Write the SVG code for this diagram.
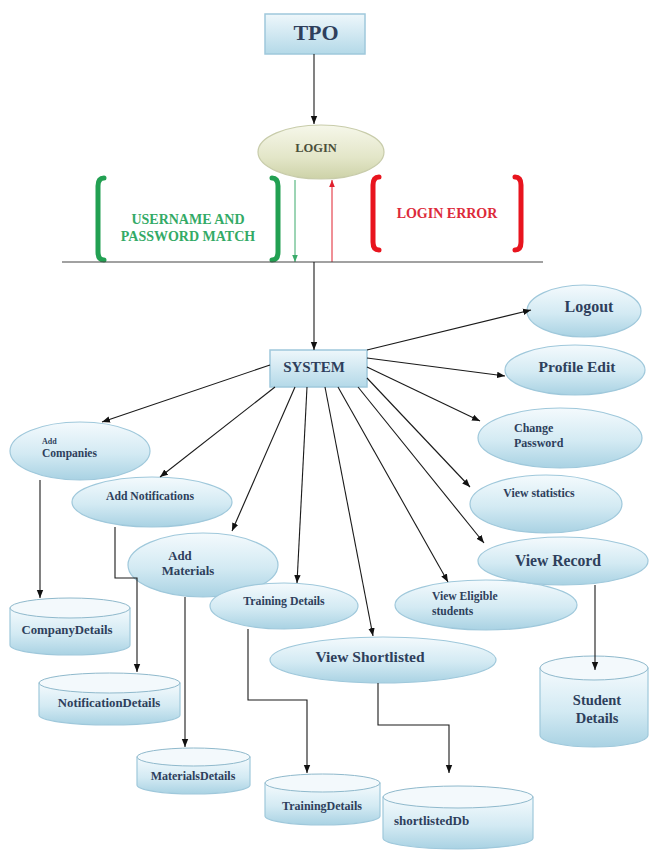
<svg xmlns="http://www.w3.org/2000/svg" width="652" height="852" viewBox="0 0 652 852">
<defs>
<linearGradient id="gb" x1="0" y1="0" x2="0" y2="1">
<stop offset="0" stop-color="#f4fafd"/>
<stop offset="0.55" stop-color="#d3eaf3"/>
<stop offset="1" stop-color="#a9d2e3"/>
</linearGradient>
<linearGradient id="gbox" x1="0" y1="0" x2="0" y2="1">
<stop offset="0" stop-color="#eef7fb"/>
<stop offset="1" stop-color="#b4d9e8"/>
</linearGradient>
<linearGradient id="gl" x1="0" y1="0" x2="0" y2="1">
<stop offset="0" stop-color="#f6f7ea"/>
<stop offset="0.6" stop-color="#e3e6c8"/>
<stop offset="1" stop-color="#cdd2a8"/>
</linearGradient>
<marker id="ah" viewBox="0 0 10 10" refX="10" refY="5" markerWidth="8" markerHeight="8" markerUnits="userSpaceOnUse" orient="auto"><path d="M0,1 L10,5 L0,9 z" fill="#111"/></marker>
<marker id="ahg" viewBox="0 0 10 10" refX="10" refY="5" markerWidth="7" markerHeight="7" markerUnits="userSpaceOnUse" orient="auto"><path d="M0,1 L10,5 L0,9 z" fill="#3aaa6a"/></marker>
<marker id="ahr" viewBox="0 0 10 10" refX="10" refY="5" markerWidth="7" markerHeight="7" markerUnits="userSpaceOnUse" orient="auto"><path d="M0,1 L10,5 L0,9 z" fill="#e0202e"/></marker>
</defs>
<style>
.e{fill:url(#gb);stroke:#9fc8db;stroke-width:1.2}
.bx{fill:url(#gbox);stroke:#9fc8db;stroke-width:1.5}
.cb{fill:url(#gb);stroke:#9fc8db;stroke-width:1.2}
.ct{fill:#f3f9fc;stroke:#8fb9cc;stroke-width:1}
.t{font-family:"Liberation Serif","Times New Roman",serif;font-weight:bold;fill:#2e3f5c}
.c{stroke:#1a1a1a;stroke-width:1.1;fill:none}
.ca{stroke:#1a1a1a;stroke-width:1.1;fill:none;marker-end:url(#ah)}
.gbr{stroke:#22a052;stroke-width:5;fill:none;stroke-linecap:round}
.rbr{stroke:#e8141e;stroke-width:5;fill:none;stroke-linecap:round}
</style>
<rect width="652" height="852" fill="#ffffff"/>

<g id="tpo">
<rect class="bx" x="265" y="14" width="100" height="40"/>
<text class="t" x="316" y="40" font-size="22" text-anchor="middle">TPO</text>
</g>

<g id="login">
<ellipse cx="321" cy="152" rx="63" ry="27" fill="url(#gl)" stroke="#c8ccaa" stroke-width="1.2"/>
<text class="t" x="316" y="152" font-size="12.5" text-anchor="middle" style="fill:#4a4f3a">LOGIN</text>
</g>

<g id="match">
<path class="gbr" d="M104,178 Q98,178 98,186 V252 Q98,260 104,260"/>
<path class="gbr" d="M272,178 Q278,178 278,186 V252 Q278,260 272,260"/>
<text class="t" x="188" y="224" font-size="14" text-anchor="middle" style="fill:#33aa66">USERNAME AND</text>
<text class="t" x="188" y="241" font-size="14" text-anchor="middle" style="fill:#33aa66">PASSWORD MATCH</text>
</g>

<g id="error">
<path class="rbr" d="M379,177 Q373,177 373,185 V242 Q373,250 379,250"/>
<path class="rbr" d="M515,177 Q521,177 521,185 V242 Q521,250 515,250"/>
<text class="t" x="447" y="218" font-size="14" text-anchor="middle" style="fill:#dd2a3a">LOGIN ERROR</text>
</g>

<g id="system">
<rect class="bx" x="270" y="350" width="97" height="37"/>
<text class="t" x="314" y="372" font-size="15" text-anchor="middle">SYSTEM</text>
</g>

<g id="logout">
<ellipse class="e" cx="584" cy="311" rx="57" ry="26"/>
<text class="t" x="589" y="312" font-size="16" text-anchor="middle">Logout</text>
</g>
<g id="profile-edit">
<ellipse class="e" cx="575" cy="370" rx="70" ry="25"/>
<text class="t" x="577" y="372" font-size="15.5" text-anchor="middle">Profile Edit</text>
</g>
<g id="change-password">
<ellipse class="e" cx="560" cy="438" rx="82" ry="30"/>
<text class="t" x="514" y="432" font-size="12">Change</text>
<text class="t" x="514" y="447" font-size="12">Password</text>
</g>
<g id="view-statistics">
<ellipse class="e" cx="546" cy="504" rx="76" ry="29"/>
<text class="t" x="539" y="497" font-size="11.8" text-anchor="middle">View statistics</text>
</g>
<g id="view-eligible">
<ellipse class="e" cx="486" cy="605" rx="91" ry="25"/>
<text class="t" x="432" y="600" font-size="11.6">View Eligible</text>
<text class="t" x="432" y="615" font-size="11.6">students</text>
</g>
<g id="view-record">
<ellipse class="e" cx="563" cy="561" rx="85" ry="24"/>
<text class="t" x="558" y="566" font-size="15.7" text-anchor="middle">View Record</text>
</g>

<g id="add-companies">
<ellipse class="e" cx="80" cy="451" rx="70" ry="29"/>
<text class="t" x="42" y="444" font-size="8">Add</text>
<text class="t" x="42" y="457" font-size="11.5">Companies</text>
</g>
<g id="add-notifications">
<ellipse class="e" cx="152" cy="502" rx="80" ry="25"/>
<text class="t" x="150" y="500" font-size="11.7" text-anchor="middle">Add Notifications</text>
</g>
<g id="add-materials">
<ellipse class="e" cx="203" cy="565" rx="75" ry="32"/>
<text class="t" x="180" y="560" font-size="12.8" text-anchor="middle">Add</text>
<text class="t" x="188" y="575" font-size="12.8" text-anchor="middle">Materials</text>
</g>
<g id="training-details">
<ellipse class="e" cx="284" cy="606" rx="74" ry="23"/>
<text class="t" x="284" y="605" font-size="11.8" text-anchor="middle">Training Details</text>
</g>
<g id="view-shortlisted">
<ellipse class="e" cx="383" cy="660" rx="113" ry="23"/>
<text class="t" x="370" y="662" font-size="15.5" text-anchor="middle">View Shortlisted</text>
</g>

<g id="company-details">
<path class="cb" d="M10,608 V645 A60,10 0 0 0 130,645 V608 Z"/>
<ellipse class="ct" cx="70" cy="608" rx="60" ry="10"/>
<text class="t" x="67" y="634" font-size="12.8" text-anchor="middle">CompanyDetails</text>
</g>
<g id="notification-details">
<path class="cb" d="M39,683 V715 A70.5,10 0 0 0 180,715 V683 Z"/>
<ellipse class="ct" cx="109.5" cy="683" rx="70.5" ry="10"/>
<text class="t" x="109" y="707" font-size="12.8" text-anchor="middle">NotificationDetails</text>
</g>
<g id="materials-details">
<path class="cb" d="M137,757 V785 A56.5,9 0 0 0 250,785 V757 Z"/>
<ellipse class="ct" cx="193.5" cy="757" rx="56.5" ry="9"/>
<text class="t" x="193" y="780" font-size="12" text-anchor="middle">MaterialsDetails</text>
</g>
<g id="training-details-db">
<path class="cb" d="M265,783 V816 A57.5,9 0 0 0 380,816 V783 Z"/>
<ellipse class="ct" cx="322.5" cy="783" rx="57.5" ry="9"/>
<text class="t" x="322" y="810" font-size="12" text-anchor="middle">TrainingDetails</text>
</g>
<g id="shortlisted-db">
<path class="cb" d="M383,797 V838 A75,11 0 0 0 533,838 V797 Z"/>
<ellipse class="ct" cx="458" cy="797" rx="75" ry="11"/>
<text class="t" x="394" y="825" font-size="13">shortlistedDb</text>
</g>
<g id="student-details">
<path class="cb" d="M540,668 V735 A54,12 0 0 0 648,735 V668 Z"/>
<ellipse class="ct" cx="594" cy="668" rx="54" ry="12"/>
<text class="t" x="597" y="705" font-size="14.5" text-anchor="middle">Student</text>
<text class="t" x="597" y="723" font-size="14.5" text-anchor="middle">Details</text>
</g>

<g id="connectors">
<line class="ca" x1="314" y1="54" x2="314" y2="124"/>
<line x1="295" y1="180" x2="295" y2="262" stroke="#3aaa6a" stroke-width="1" marker-end="url(#ahg)"/>
<line x1="332" y1="262" x2="332" y2="180" stroke="#e0202e" stroke-width="1" marker-end="url(#ahr)"/>
<line class="c" x1="62" y1="262" x2="543" y2="262" style="stroke:#444"/>
<line class="ca" x1="314" y1="262" x2="314" y2="350"/>
<line class="ca" x1="367" y1="350" x2="531" y2="310"/>
<line class="ca" x1="367" y1="358" x2="505" y2="376"/>
<line class="ca" x1="367" y1="367" x2="480" y2="421"/>
<line class="ca" x1="367" y1="378" x2="470" y2="487"/>
<line class="ca" x1="358" y1="387" x2="484" y2="543"/>
<line class="ca" x1="338" y1="387" x2="448" y2="582"/>
<line class="ca" x1="325" y1="387" x2="373" y2="636"/>
<line class="ca" x1="307" y1="387" x2="297" y2="583"/>
<line class="ca" x1="295" y1="387" x2="232" y2="531"/>
<line class="ca" x1="275" y1="387" x2="160" y2="477"/>
<line class="ca" x1="270" y1="365" x2="102" y2="422"/>
<path class="ca" d="M40,480 V598"/>
<path class="ca" d="M115,527 V578 H137 V672"/>
<path class="ca" d="M185,597 V747"/>
<path class="ca" d="M248,629 V700 H307 V773"/>
<path class="ca" d="M378,683 V725 H449 V773"/>
<path class="ca" d="M595,585 V670"/>
</g>
</svg>
